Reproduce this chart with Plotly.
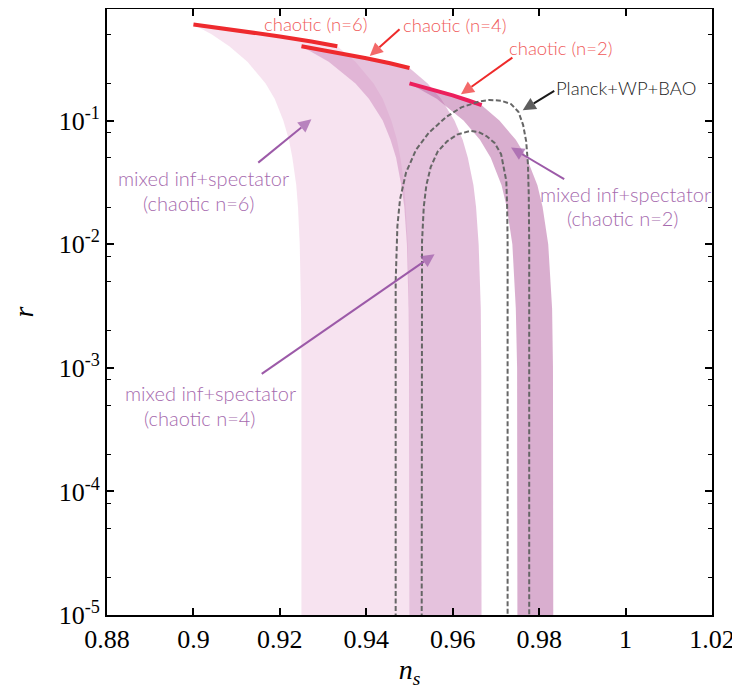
import plotly.graph_objects as go

# ---------------- data ----------------
# chaotic inflation predictions (N = 40 ... 60 e-folds)
chaotic6_ns = [0.9000, 0.9111, 0.9200, 0.9273, 0.9333]
chaotic6_r = [0.600, 0.5333, 0.480, 0.4364, 0.400]
chaotic4_ns = [0.9250, 0.9333, 0.9400, 0.9455, 0.9500]
chaotic4_r = [0.400, 0.3556, 0.320, 0.2909, 0.2667]
chaotic2_ns = [0.9500, 0.9556, 0.9600, 0.9636, 0.9667]
chaotic2_r = [0.200, 0.1778, 0.160, 0.1455, 0.1333]

# mixed inflaton + spectator bands: left (N=40) and right (N=60) edges
n6_left_ns = [0.9000, 0.9042, 0.9083, 0.9125, 0.9167, 0.9188, 0.9208, 0.9221,
              0.9229, 0.9238, 0.9242, 0.9246, 0.9249, 0.9250, 0.9250]
n6_left_r = [0.6, 0.5, 0.4, 0.3, 0.2, 0.15, 0.1, 0.07, 0.05, 0.03, 0.02, 0.01,
             0.003, 0.001, 1e-6]
n6_right_ns = [0.9333, 0.9375, 0.9417, 0.9438, 0.9458, 0.9471, 0.9479, 0.9488,
               0.9492, 0.9496, 0.9499, 0.9500, 0.9500]
n6_right_r = [0.4, 0.3, 0.2, 0.15, 0.1, 0.07, 0.05, 0.03, 0.02, 0.01, 0.003,
              0.001, 1e-6]

n4_left_ns = [0.9250, 0.9313, 0.9375, 0.9406, 0.9438, 0.9456, 0.9469, 0.9481,
              0.9488, 0.9494, 0.9498, 0.9499, 0.9500]
n4_left_r = [0.4, 0.3, 0.2, 0.15, 0.1, 0.07, 0.05, 0.03, 0.02, 0.01, 0.003,
             0.001, 1e-6]
n4_right_ns = [0.9500, 0.9542, 0.9573, 0.9604, 0.9623, 0.9635, 0.9648, 0.9654,
               0.9660, 0.9665, 0.9666, 0.9667]
n4_right_r = [0.2667, 0.2, 0.15, 0.1, 0.07, 0.05, 0.03, 0.02, 0.01, 0.003,
              0.001, 1e-6]

n2_left_ns = [0.9500, 0.9563, 0.9625, 0.9663, 0.9688, 0.9713, 0.9725, 0.9738,
              0.9746, 0.9749, 0.9750]
n2_left_r = [0.2, 0.15, 0.1, 0.07, 0.05, 0.03, 0.02, 0.01, 0.003, 0.001, 1e-6]
n2_right_ns = [0.9667, 0.9708, 0.9746, 0.9771, 0.9796, 0.9808, 0.9821, 0.9830,
               0.9832, 0.9833]
n2_right_r = [0.1333, 0.1, 0.07, 0.05, 0.03, 0.02, 0.01, 0.003, 0.001, 1e-6]

# Planck+WP+BAO contours (95% outer, 68% inner)
planck95_ns = [0.9468, 0.9468, 0.9472, 0.9478, 0.9492, 0.9515, 0.9545, 0.9585,
               0.9620, 0.9662, 0.9685, 0.9712, 0.9735, 0.9752, 0.9763, 0.9770,
               0.9774, 0.9776, 0.9777, 0.9777]
planck95_r = [1e-6, 0.005, 0.014, 0.023, 0.038, 0.058, 0.080, 0.107, 0.128,
              0.143, 0.147, 0.145, 0.136, 0.118, 0.092, 0.068, 0.045, 0.025,
              0.010, 1e-6]
planck68_ns = [0.9528, 0.9528, 0.9529, 0.9533, 0.9539, 0.9549, 0.9565, 0.9587,
               0.9610, 0.9640, 0.9660, 0.9678, 0.9697, 0.9712, 0.9720, 0.9724,
               0.9726, 0.9727, 0.9727]
planck68_r = [1e-6, 0.005, 0.0105, 0.0200, 0.030, 0.042, 0.056, 0.068, 0.077,
              0.0825, 0.081, 0.075, 0.066, 0.0535, 0.040, 0.0325, 0.020, 0.0106,
              1e-6]

x_ticks = [0.88, 0.9, 0.92, 0.94, 0.96, 0.98, 1.0, 1.02]
x_ticktext = ["0.88", "0.9", "0.92", "0.94", "0.96", "0.98", "1", "1.02"]
y_ticks = [1e-5, 1e-4, 1e-3, 1e-2, 1e-1]
y_ticktext = ["10<sup>-5</sup>", "10<sup>-4</sup>", "10<sup>-3</sup>",
              "10<sup>-2</sup>", "10<sup>-1</sup>"]
y_minor = [2e-5, 5e-5, 8e-5, 2e-4, 5e-4, 8e-4, 2e-3, 5e-3, 8e-3,
           2e-2, 5e-2, 8e-2, 2e-1, 5e-1]

# label texts: (text, ns, log10 r, colour, size)
red_txt = "#f05a5a"
purple_txt = "#a66aae"
labels = [
    ("chaotic (n=6)", 0.9283, -0.2152, red_txt, 18.5),
    ("chaotic (n=4)", 0.9603, -0.2257, red_txt, 18.5),
    ("chaotic (n=2)", 0.9850, -0.4118, red_txt, 18.5),
    ("Planck+WP+BAO", 1.0002, -0.733, "#222222", 18.5),
    ("mixed inf+spectator", 0.9023, -1.4612, purple_txt, 20),
    ("(chaotic n=6)", 0.9014, -1.6634, purple_txt, 20),
    ("mixed inf+spectator", 0.9040, -3.2006, purple_txt, 20),
    ("(chaotic n=4)", 0.9015, -3.4029, purple_txt, 20),
    ("mixed inf+spectator", 0.9999, -1.5955, purple_txt, 20),
    ("(chaotic n=2)", 0.9994, -1.7848, purple_txt, 20),
]

# arrows: tail (ns, r) -> head (ns, r), colour
arrow_tail_ns = [0.9477, 0.9738, 0.9835, 0.9150, 0.9858, 0.9158]
arrow_tail_r = [0.5489, 0.3233, 0.1739, 0.04573, 0.03357, 0.000893]
arrow_head_ns = [0.9408, 0.9619, 0.9762, 0.9273, 0.9735, 0.9558]
arrow_head_r = [0.3338, 0.1635, 0.1214, 0.1026, 0.06047, 0.0083]
arrow_colors = ["#ee2a2a", "#ee2a2a", "#1a1a1a", "#9c5aa8", "#9c5aa8",
                "#9c5aa8"]

# ---------------- figure ----------------
fig = go.Figure()


def band(left_ns, left_r, right_ns, right_r, top_ns, top_r, color):
    xs = list(left_ns) + list(reversed(right_ns)) + list(reversed(top_ns))
    ys = list(left_r) + list(reversed(right_r)) + list(reversed(top_r))
    fig.add_trace(go.Scatter(x=xs, y=ys, mode="lines", fill="toself",
                             fillcolor=color, line=dict(width=0),
                             hoverinfo="skip", showlegend=False))


band(n6_left_ns, n6_left_r, n6_right_ns, n6_right_r, chaotic6_ns, chaotic6_r,
     "rgba(240,200,225,0.5)")
band(n4_left_ns, n4_left_r, n4_right_ns, n4_right_r, chaotic4_ns, chaotic4_r,
     "rgba(208,144,193,0.55)")
band(n2_left_ns, n2_left_r, n2_right_ns, n2_right_r, chaotic2_ns, chaotic2_r,
     "rgba(190,115,172,0.58)")

for xs, ys, col in [(chaotic6_ns, chaotic6_r, "#ee2a2e"),
                    (chaotic4_ns, chaotic4_r, "#ee2a2e"),
                    (chaotic2_ns, chaotic2_r, "#ec1f5c")]:
    fig.add_trace(go.Scatter(x=xs, y=ys, mode="lines",
                             line=dict(color=col, width=4),
                             hoverinfo="skip", showlegend=False))

for xs, ys in [(planck95_ns, planck95_r), (planck68_ns, planck68_r)]:
    fig.add_trace(go.Scatter(x=xs, y=ys, mode="lines",
                             line=dict(color="#666666", width=2,
                                       dash="5px,2.5px"),
                             hoverinfo="skip", showlegend=False))

for i in range(len(arrow_colors)):
    c = arrow_colors[i]
    fig.add_trace(go.Scatter(
        x=[arrow_tail_ns[i], arrow_head_ns[i]],
        y=[arrow_tail_r[i], arrow_head_r[i]],
        mode="lines+markers",
        line=dict(color=c, width=2),
        marker=dict(symbol="arrow-up", size=[0, 13], angleref="previous",
                    color=c, line=dict(width=0)),
        hoverinfo="skip", showlegend=False))

for t, x, y, c, s in labels:
    fig.add_annotation(x=x, y=y, xref="x", yref="y", text=t, showarrow=False,
                       font=dict(family="Lato", size=s, weight=300, color=c),
                       align="center")

serif = "Liberation Serif"
fig.update_xaxes(range=[0.88, 1.02], tickvals=x_ticks, ticktext=x_ticktext,
                 ticks="inside", ticklen=7, tickwidth=1.5, tickcolor="black",
                 showline=True, linecolor="black", linewidth=2,
                 mirror="allticks", showgrid=False, zeroline=False,
                 ticklabeloverflow="allow", automargin=False,
                 tickfont=dict(family=serif, size=26, color="black"),
                 title=dict(text="<i>n<sub>s</sub></i>",
                            font=dict(family=serif, size=28, color="black"),
                            standoff=17))
fig.update_yaxes(type="log", range=[-5, -0.09691], tickvals=y_ticks,
                 ticktext=y_ticktext, ticks="inside", ticklen=7,
                 tickwidth=1.5, tickcolor="black",
                 minor=dict(tickvals=y_minor, ticks="inside", ticklen=4,
                            tickwidth=1.2, tickcolor="black", showgrid=False),
                 showline=True, linecolor="black", linewidth=2,
                 mirror="allticks", showgrid=False, zeroline=False,
                 automargin=False,
                 tickfont=dict(family=serif, size=26, color="black"),
                 title=dict(text="<i>r</i>",
                            font=dict(family=serif, size=28, color="black"),
                            standoff=32))
# the page adds an 8 px body margin, so the figure is offset by it
fig.update_layout(width=732, height=681, plot_bgcolor="white",
                  paper_bgcolor="white",
                  margin=dict(l=99, r=28, t=1, b=74), showlegend=False)

fig.write_html("out.html")
